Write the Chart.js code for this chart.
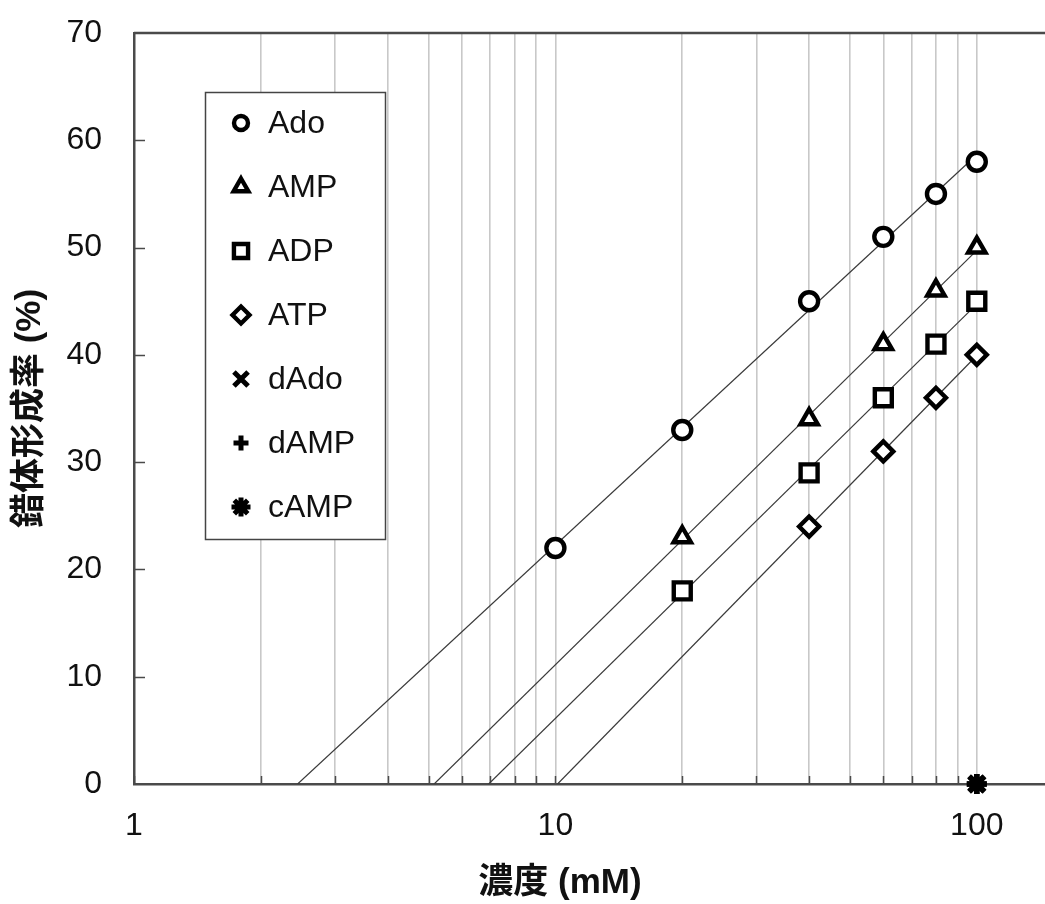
<!DOCTYPE html>
<html>
<head>
<meta charset="utf-8">
<script src="https://cdn.jsdelivr.net/npm/chart.js@4/dist/chart.umd.min.js"></script>
<style>
  html, body { margin: 0; padding: 0; background: #fff; overflow: hidden; }
  #wrap { width: 1060px; height: 904px; }
</style>
</head>
<body>
<div id="wrap"><canvas id="c" width="1060" height="904"></canvas></div>
<script>
// 濃度 (mM) と 錯体形成率 (%)
const concAdo = [10, 20, 40, 60, 80, 100];
const rateAdo = [22, 33, 45, 51, 55, 58];
const concAMP = [20, 40, 60, 80, 100];
const rateAMP = [23, 34, 41, 46, 50];
const concADP = [20, 40, 60, 80, 100];
const rateADP = [18, 29, 36, 41, 45];
const concATP = [40, 60, 80, 100];
const rateATP = [24, 31, 36, 40];
const concDAdo = [100];
const rateDAdo = [0];
const concDAMP = [100];
const rateDAMP = [0];
const concCAMP = [100];
const rateCAMP = [0];

const seriesNames = ['Ado', 'AMP', 'ADP', 'ATP', 'dAdo', 'dAMP', 'cAMP'];
const seriesStyles = ['circle', 'triangle', 'rect', 'rectRot', 'crossRot', 'cross', 'star'];
const xTickValues = [1, 2, 3, 4, 5, 6, 7, 8, 9, 10, 20, 30, 40, 50, 60, 70, 80, 90, 100];
const xTickLabels = ['1', '10', '100'];
const yTickStep = 10;

const FONT = "'Liberation Sans', Arial, 'Noto Sans CJK JP', sans-serif";

function pts(xs, ys) { return xs.map((x, i) => ({ x: x, y: ys[i] })); }

// logarithmic least-squares trend line, drawn from y = 0 up to the last point
function logTrend(xs, ys) {
  const lx = xs.map(v => Math.log10(v));
  const n = lx.length;
  const mx = lx.reduce((a, b) => a + b, 0) / n;
  const my = ys.reduce((a, b) => a + b, 0) / n;
  let sxy = 0, sxx = 0;
  for (let i = 0; i < n; i++) { sxy += (lx[i] - mx) * (ys[i] - my); sxx += (lx[i] - mx) ** 2; }
  const b = sxy / sxx, a = my - b * mx;
  const xEnd = xs[n - 1];
  const x0 = Math.pow(10, -a / b);
  return [{ x: x0, y: 0 }, { x: xEnd, y: a + b * Math.log10(xEnd) }];
}

const markerSets = [
  [concAdo, rateAdo, 9], [concAMP, rateAMP, 10], [concADP, rateADP, 12],
  [concATP, rateATP, 10], [concDAdo, rateDAdo, 11], [concDAMP, rateDAMP, 10], [concCAMP, rateCAMP, 10]
];

const datasets = [];
[[concAdo, rateAdo], [concAMP, rateAMP], [concADP, rateADP], [concATP, rateATP]].forEach(([xs, ys]) => {
  datasets.push({
    data: logTrend(xs, ys), showLine: true, pointRadius: 0, borderColor: '#3a3a3a',
    borderWidth: 1.2, order: 10
  });
});
markerSets.forEach(([xs, ys, r], i) => {
  const bw = i >= 4 ? 5.5 : 4.4;
  datasets.push({
    label: seriesNames[i], data: pts(xs, ys), showLine: false,
    pointStyle: seriesStyles[i], pointRadius: r, pointHoverRadius: r,
    pointBorderWidth: bw, pointHoverBorderWidth: bw, pointBorderColor: '#000',
    pointBackgroundColor: '#fff', order: 7 - i, clip: false
  });
});

const frame = {
  id: 'frame',
  beforeDatasetsDraw(chart) {
    const { ctx, chartArea: a, scales } = chart;
    ctx.save();
    ctx.strokeStyle = '#4a4a4a';
    ctx.lineWidth = 1.5;
    // inward ticks on the x axis
    xTickValues.forEach(v => {
      const px = Math.round(scales.x.getPixelForValue(v)) + 0.5;
      ctx.beginPath(); ctx.moveTo(px, a.bottom); ctx.lineTo(px, a.bottom - 8); ctx.stroke();
    });
    // inward ticks on the y axis
    for (let v = yTickStep; v < 70; v += yTickStep) {
      const py = Math.round(scales.y.getPixelForValue(v)) + 0.5;
      ctx.beginPath(); ctx.moveTo(a.left, py); ctx.lineTo(a.left + 11, py); ctx.stroke();
    }
    ctx.lineWidth = 2.5;
    ctx.beginPath(); ctx.moveTo(a.left, a.top); ctx.lineTo(a.right, a.top); ctx.lineTo(a.right, a.bottom); ctx.stroke();
    ctx.restore();
  },
  afterDraw(chart) {
    const { ctx } = chart;
    ctx.save();
    // x axis title
    ctx.font = 'bold 35px ' + FONT;
    ctx.fillStyle = '#111';
    ctx.textAlign = 'center';
    ctx.textBaseline = 'middle';
    ctx.fillText('濃度 (mM)', 560, 883);
    // legend box
    const bx = 205, by = 92, bw = 180, bh = 447;
    ctx.fillStyle = '#fff';
    ctx.fillRect(bx, by, bw, bh);
    ctx.strokeStyle = '#444';
    ctx.lineWidth = 1.5;
    ctx.strokeRect(bx + 0.5, by + 0.5, bw, bh);
    seriesNames.forEach((name, i) => {
      const y = 123 + i * 64;
      const lw = i >= 4 ? 5 : 4.4;
      const r = [7, 8.5, 10, 8.5, 10, 7.5, 9.5][i];
      ctx.strokeStyle = '#000';
      ctx.fillStyle = '#fff';
      ctx.lineWidth = lw;
      Chart.helpers.drawPoint(ctx, { pointStyle: seriesStyles[i], radius: r, rotation: 0, borderWidth: lw }, 241, y);
      ctx.fillStyle = '#111';
      ctx.font = '32px ' + FONT;
      ctx.textAlign = 'left';
      ctx.textBaseline = 'middle';
      ctx.fillText(name, 268, y + 1);
    });
    ctx.restore();
  }
};

new Chart(document.getElementById('c'), {
  type: 'scatter',
  data: { datasets: datasets },
  plugins: [frame],
  options: {
    responsive: false,
    animation: false,
    devicePixelRatio: 1,
    layout: { autoPadding: false, padding: { top: 33, right: 9, left: 0, bottom: 0 } },
    plugins: { legend: { display: false }, tooltip: { enabled: false } },
    scales: {
      x: {
        type: 'logarithmic', min: 1, max: 150,
        afterBuildTicks: s => { s.ticks = xTickValues.map(v => ({ value: v })); },
        afterFit: s => { s.height = 120; s.paddingLeft = 0; s.paddingRight = 0; },
        grid: { color: '#c8c8c8', lineWidth: 1.6, drawTicks: false },
        border: { display: true, color: '#4a4a4a', width: 2.5 },
        ticks: {
          autoSkip: false, maxRotation: 0, padding: 23, color: '#111',
          font: { family: FONT, size: 32 },
          callback: v => (xTickLabels.includes(String(v)) ? String(v) : '')
        },
        title: { display: false }
      },
      y: {
        min: 0, max: 70,
        afterFit: s => { s.width = 134; s.paddingTop = 0; s.paddingBottom = 0; },
        grid: { display: false, drawTicks: false },
        border: { display: true, color: '#4a4a4a', width: 2.5 },
        ticks: { stepSize: yTickStep, padding: 32, color: '#111', font: { family: FONT, size: 32 } },
        title: {
          display: true, text: '錯体形成率 (%)', color: '#111',
          font: { family: FONT, size: 35, weight: 'bold' }, padding: { top: 9, bottom: 0 }
        }
      }
    }
  }
});
</script>
</body>
</html>
